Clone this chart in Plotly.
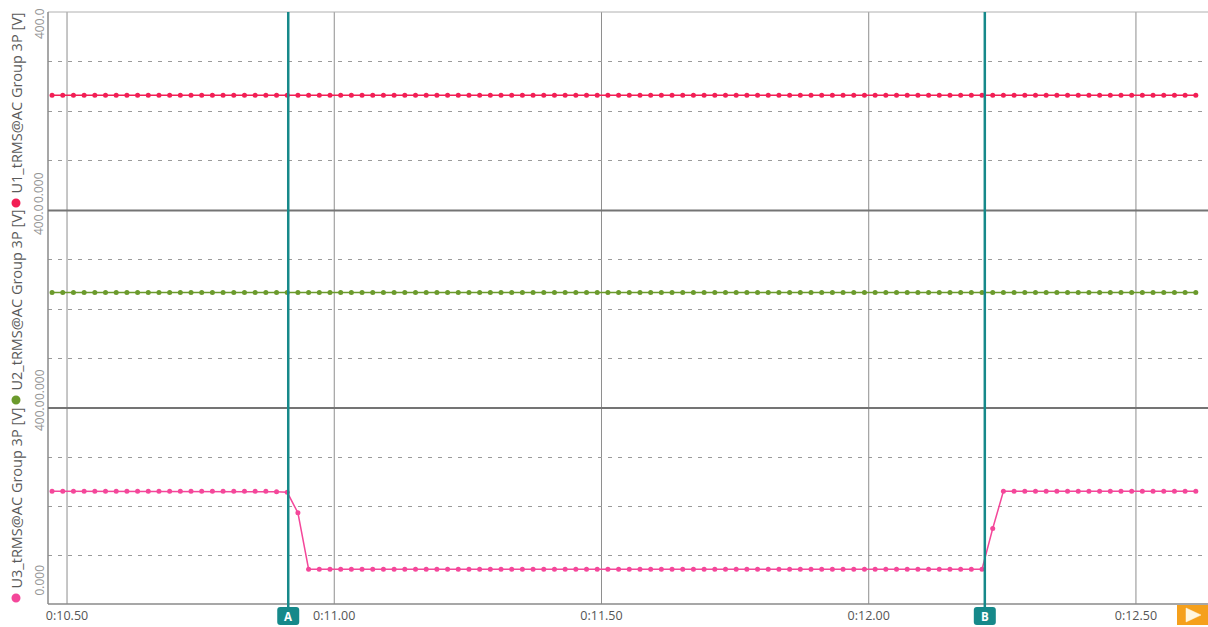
import plotly.graph_objects as go

# RMS samples, one every 20 ms
sample_start = 10.472   # seconds
sample_step = 0.02

u1_values = [
    232, 232, 232, 232, 232, 232, 232, 232, 232, 232, 232, 232,
    232, 232, 232, 232, 232, 232, 232, 232, 232, 232, 232, 232,
    232, 232, 232, 232, 232, 232, 232, 232, 232, 232, 232, 232,
    232, 232, 232, 232, 232, 232, 232, 232, 232, 232, 232, 232,
    232, 232, 232, 232, 232, 232, 232, 232, 232, 232, 232, 232,
    232, 232, 232, 232, 232, 232, 232, 232, 232, 232, 232, 232,
    232, 232, 232, 232, 232, 232, 232, 232, 232, 232, 232, 232,
    232, 232, 232, 232, 232, 232, 232, 232, 232, 232, 232, 232,
    232, 232, 232, 232, 232, 232, 232, 232, 232, 232, 232, 232,
]
u2_values = [
    234, 234, 234, 234, 234, 234, 234, 234, 234, 234, 234, 234,
    234, 234, 234, 234, 234, 234, 234, 234, 234, 234, 234, 234,
    234, 234, 234, 234, 234, 234, 234, 234, 234, 234, 234, 234,
    234, 234, 234, 234, 234, 234, 234, 234, 234, 234, 234, 234,
    234, 234, 234, 234, 234, 234, 234, 234, 234, 234, 234, 234,
    234, 234, 234, 234, 234, 234, 234, 234, 234, 234, 234, 234,
    234, 234, 234, 234, 234, 234, 234, 234, 234, 234, 234, 234,
    234, 234, 234, 234, 234, 234, 234, 234, 234, 234, 234, 234,
    234, 234, 234, 234, 234, 234, 234, 234, 234, 234, 234, 234,
]
u3_values = [
    230, 230, 230, 230, 230, 230, 230, 230, 230, 230, 230, 230,
    230, 230, 230, 230, 230, 230, 230, 230, 230, 229, 228, 186,
    71, 71, 71, 71, 71, 71, 71, 71, 71, 71, 71, 71,
    71, 71, 71, 71, 71, 71, 71, 71, 71, 71, 71, 71,
    71, 71, 71, 71, 71, 71, 71, 71, 71, 71, 71, 71,
    71, 71, 71, 71, 71, 71, 71, 71, 71, 71, 71, 71,
    71, 71, 71, 71, 71, 71, 71, 71, 71, 71, 71, 71,
    71, 71, 71, 71, 154, 230, 230, 230, 230, 230, 230, 230,
    230, 230, 230, 230, 230, 230, 230, 230, 230, 230, 230, 230,
]

channel_names = ["U1_tRMS@AC Group 3P [V]", "U2_tRMS@AC Group 3P [V]", "U3_tRMS@AC Group 3P [V]"]
channel_colors = ["#f21f55", "#6b9a2c", "#f4479a"]

tick_times = [10.5, 11.0, 11.5, 12.0, 12.5]
tick_labels = ["0:10.50", "0:11.00", "0:11.50", "0:12.00", "0:12.50"]

cursor_times = [10.9139, 12.2172]
cursor_names = ["A", "B"]

x_range = [10.4644, 12.6348]
y_range = [0, 400]
y_top_label = "400.0"
y_bottom_label = "0.000"

times = [sample_start + sample_step * i for i in range(len(u1_values))]

# ---- page geometry (pixels) ----
W, H = 1208, 627
ML, MR, MT, MB = 48, 0, 12, 23
plot_w = W - ML - MR
plot_h = H - MT - MB


def px(x_pix):
    return (x_pix - ML) / plot_w


def py(y_pix):
    return (H - MB - y_pix) / plot_h


sep_low = py(408)
sep_high = py(210.5)
domains = {"y": [0, sep_low], "y2": [sep_low, sep_high], "y3": [sep_high, 1]}

teal = "#16898a"
font_family = "Open Sans, Noto Sans, sans-serif"

fig = go.Figure()
series = [("y3", u1_values, 0), ("y2", u2_values, 1), ("y", u3_values, 2)]
for axis, vals, idx in series:
    fig.add_trace(go.Scatter(
        x=times, y=vals, yaxis=axis, mode="lines+markers",
        line=dict(color=channel_colors[idx], width=1.5),
        marker=dict(color=channel_colors[idx], size=5),
        name=channel_names[idx], showlegend=False,
    ))

yaxis_common = dict(
    range=y_range, tickvals=[100, 200, 300], showticklabels=False,
    showgrid=True, gridcolor="#9a9a9a", gridwidth=1, griddash="4px,6px",
    zeroline=False, showline=False, ticks="", fixedrange=True,
)

shapes = []
# vertical time grid
for t in tick_times:
    shapes.append(dict(type="line", xref="x", yref="paper", x0=t, x1=t, y0=0, y1=1,
                       line=dict(color="#8e8e8e", width=1), layer="below"))
# frame and panel separators
shapes.append(dict(type="line", xref="paper", yref="paper", x0=0, x1=1, y0=1, y1=1,
                   line=dict(color="#b0b0b0", width=1)))
shapes.append(dict(type="line", xref="paper", yref="paper", x0=0, x1=1, y0=0, y1=0,
                   line=dict(color="#8a8a8a", width=1.5)))
shapes.append(dict(type="line", xref="paper", yref="paper", x0=0, x1=0, y0=0, y1=1,
                   line=dict(color="#8a8a8a", width=1.5)))
for s in (sep_low, sep_high):
    shapes.append(dict(type="line", xref="paper", yref="paper", x0=0, x1=1, y0=s, y1=s,
                       line=dict(color="#747474", width=2)))
# cursors with rounded tags below the time axis
tag_path = ("M -8,-9 L 8,-9 Q 11,-9 11,-6 L 11,6 Q 11,9 8,9 L -8,9 "
            "Q -11,9 -11,6 L -11,-6 Q -11,-9 -8,-9 Z")
for t in cursor_times:
    shapes.append(dict(type="line", xref="x", yref="paper", x0=t, x1=t, y0=py(612), y1=1,
                       line=dict(color=teal, width=2.5), layer="above"))
    shapes.append(dict(type="path", xref="x", yref="paper", xsizemode="pixel", ysizemode="pixel",
                       xanchor=t, yanchor=py(616), path=tag_path,
                       fillcolor=teal, line=dict(width=0), layer="above"))
# play button at the right end of the time axis
bx0, bx1, by0, by1 = px(1177), px(1208), py(625), py(605)
shapes.append(dict(type="rect", xref="paper", yref="paper", x0=bx0, x1=bx1, y0=by0, y1=by1,
                   fillcolor="#f5a01c", line=dict(width=0)))
shapes.append(dict(type="path", xref="paper", yref="paper",
                   path=f"M {px(1186)},{py(608)} L {px(1186)},{py(622)} L {px(1201)},{py(615)} Z",
                   fillcolor="#fff6e0", line=dict(color="#fff6e0", width=0.5)))

# colour dots in front of the channel titles
dot_centers = [203, 400, 598]
for idx, yc in enumerate(dot_centers):
    shapes.append(dict(type="circle", xref="paper", yref="paper",
                       x0=px(11.5), x1=px(20.5), y0=py(yc + 4.5), y1=py(yc - 4.5),
                       fillcolor=channel_colors[idx], line=dict(width=0)))

annotations = []
# cursor tag letters
for t, name in zip(cursor_times, cursor_names):
    annotations.append(dict(x=t, xref="x", y=py(616), yref="paper", text=f"<b>{name}</b>",
                            showarrow=False, font=dict(color="white", size=11.5, family=font_family),
                            xanchor="center", yanchor="middle"))

# channel titles on the left, rotated
title_bottoms = [196, 393, 591]
for idx in range(3):
    annotations.append(dict(
        x=px(16), xref="paper", y=py(title_bottoms[idx]), yref="paper",
        text=channel_names[idx],
        textangle=-90, showarrow=False, xanchor="center", yanchor="bottom",
        font=dict(size=14.5, color="#5a5a5a", family=font_family),
    ))

# value scale labels per panel
top_centers = [24, 220, 416]
bottom_centers = [188, 385, 580.5]
for yc in top_centers:
    annotations.append(dict(x=px(39), xref="paper", y=py(yc), yref="paper", text=y_top_label,
                            textangle=-90, showarrow=False, xanchor="center", yanchor="middle",
                            font=dict(size=12, color="#949494", family=font_family)))
for yc in bottom_centers:
    annotations.append(dict(x=px(39), xref="paper", y=py(yc), yref="paper", text=y_bottom_label,
                            textangle=-90, showarrow=False, xanchor="center", yanchor="middle",
                            font=dict(size=12, color="#949494", family=font_family)))

fig.update_layout(
    width=W, height=H,
    margin=dict(l=ML, r=MR, t=MT, b=MB),
    paper_bgcolor="white", plot_bgcolor="white",
    xaxis=dict(range=x_range, tickvals=tick_times, ticktext=tick_labels, showgrid=False,
               zeroline=False, showline=False, ticks="", ticklabelstandoff=2,
               tickfont=dict(size=12.5, color="#555555", family=font_family), anchor="y",
               fixedrange=True),
    yaxis=dict(domain=domains["y"], **yaxis_common),
    yaxis2=dict(domain=domains["y2"], anchor="x", **yaxis_common),
    yaxis3=dict(domain=domains["y3"], anchor="x", **yaxis_common),
    shapes=shapes,
    annotations=annotations,
    showlegend=False,
)

fig.write_html("out.html")
